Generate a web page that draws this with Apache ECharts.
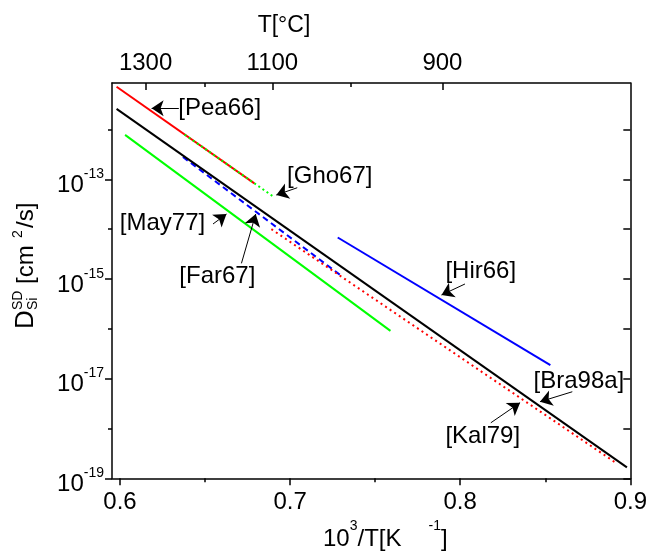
<!DOCTYPE html>
<html><head><meta charset="utf-8">
<script src="https://cdn.jsdelivr.net/npm/echarts@6/dist/echarts.min.js"></script>
<style>html,body{margin:0;padding:0;background:#fff}#c{width:650px;height:552px}</style>
</head><body><div id="c"></div>
<script>
// x: 10^3/T [1/K], y: D [cm^2/s]
const pea66X = [0.598, 0.679];
const pea66Y = [7.2e-12, 8.3e-14];
const gho67X = [0.638, 0.691];
const gho67Y = [7.9e-13, 4.3e-14];
const bra98aX = [0.598, 0.898];
const bra98aY = [2.6e-12, 1.66e-19];
const may77X = [0.603, 0.759];
const may77Y = [7.8e-13, 9.1e-17];
const hir66X = [0.728, 0.853];
const hir66Y = [6.8e-15, 1.86e-17];
const far67X = [0.637, 0.731];
const far67Y = [2.8e-13, 1.1e-15];
const kal79X = [0.689, 0.891];
const kal79Y = [1.0e-14, 2.1e-19];

// tick labels
const xTicks = [0.6, 0.7, 0.8, 0.9];
const xMinorTicks = [0.65, 0.75, 0.85];
const yTickExps = [-19, -17, -15, -13];
const yMinorExps = [-18, -16, -14, -12];
const tempTicks = [1300, 1100, 900];
const tempMinorTicks = [1200, 1000];
const refNames = ['[Pea66]', '[Gho67]', '[May77]', '[Far67]', '[Hir66]', '[Bra98a]', '[Kal79]'];

// annotation layout (data coordinates)
const annotLayout = [
  {text: [0.6346, 2.66e-12], align: 'left', from: [0.6346, 2.66e-12], to: [0.6186, 2.66e-12]},
  {text: [0.6985, 1.13e-13], align: 'left', from: [0.7042, 6.78e-14], to: [0.6919, 4.84e-14]},
  {text: [0.6498, 1.31e-14], align: 'right', from: [0.6547, 1.27e-14], to: [0.6626, 2.01e-14]},
  {text: [0.6352, 1.15e-15], align: 'left', from: [0.6714, 2.06e-15], to: [0.6798, 2.01e-14]},
  {text: [0.7916, 1.40e-15], align: 'left', from: [0.8028, 7.93e-16], to: [0.7890, 4.77e-16]},
  {text: [0.8434, 8.67e-18], align: 'left', from: [0.8659, 5.46e-18], to: [0.8469, 3.44e-18]},
  {text: [0.7916, 6.83e-19], align: 'left', from: [0.8180, 1.30e-18], to: [0.8352, 3.29e-18]}
];

const FF = '"Liberation Sans", Arial, Helvetica, sans-serif';
const pow10 = e => Math.pow(10, e);
const inv = t => 1000 / (t + 273.15);
const zip = (xs, ys) => xs.map((x, i) => [x, ys[i]]);

const X_MIN = 0.59531, X_MAX = 0.9;
const T_MIN = 0.611126, T_MAX = 0.989613;
const Y_MIN = 1e-19, Y_MAX = pow10(-11.067);

const axLine = {show: true, onZero: false, lineStyle: {color: '#000', width: 1.5}};
const noLine = {show: false, onZero: false};
const tickStyle = {color: '#000', width: 1.5};

function lineSeries(name, xs, ys, color, type) {
  return {
    name, type: 'line', data: zip(xs, ys), showSymbol: false, symbol: 'none',
    xAxisIndex: 0, yAxisIndex: 0, silent: true,
    lineStyle: {color, width: 2, type: type || 'solid'}
  };
}

const chart = echarts.init(document.getElementById('c'), null, {renderer: 'canvas'});
chart.setOption({
  animation: false,
  backgroundColor: '#fff',
  textStyle: {fontFamily: FF},
  grid: {left: 112, right: 18.3, top: 83, bottom: 73.7},
  xAxis: [
    {type: 'value', position: 'bottom', min: X_MIN, max: X_MAX, axisLine: axLine,
     axisTick: {show: true, inside: false, length: 7, customValues: xTicks, lineStyle: tickStyle},
     axisLabel: {customValues: xTicks, formatter: v => v.toFixed(1), fontSize: 24, color: '#000', margin: 12, fontFamily: FF},
     splitLine: {show: false}},
    {type: 'value', position: 'bottom', min: X_MIN, max: X_MAX, axisLine: noLine,
     axisTick: {show: true, inside: false, length: 4, customValues: xMinorTicks, lineStyle: tickStyle},
     axisLabel: {show: false}, splitLine: {show: false}},
    {type: 'value', position: 'top', min: T_MIN, max: T_MAX, axisLine: axLine,
     axisTick: {show: true, inside: true, length: 7, customValues: tempTicks.map(inv), lineStyle: tickStyle},
     axisLabel: {customValues: tempTicks.map(inv), formatter: v => String(Math.round(1000 / v - 273.15)), fontSize: 24, color: '#000', margin: 8, fontFamily: FF},
     splitLine: {show: false}},
    {type: 'value', position: 'top', min: T_MIN, max: T_MAX, axisLine: noLine,
     axisTick: {show: true, inside: true, length: 4, customValues: tempMinorTicks.map(inv), lineStyle: tickStyle},
     axisLabel: {show: false}, splitLine: {show: false}}
  ],
  yAxis: [
    {type: 'log', logBase: 10, position: 'left', min: Y_MIN, max: Y_MAX, axisLine: axLine,
     axisTick: {show: true, inside: false, length: 7, customValues: yTickExps.map(pow10), lineStyle: tickStyle},
     axisLabel: {customValues: yTickExps.map(pow10), margin: 8, color: '#000',
       formatter: v => '{b|10}{s|' + Math.round(Math.log10(v)) + '}',
       rich: {
         b: {fontSize: 24, color: '#000', fontFamily: FF, padding: [12, 0, 0, 0], verticalAlign: 'bottom'},
         s: {fontSize: 14, color: '#000', fontFamily: FF, padding: [6, 0, 0, 0], verticalAlign: 'top'}
       }},
     splitLine: {show: false}, minorTick: {show: false}},
    {type: 'log', logBase: 10, position: 'left', min: Y_MIN, max: Y_MAX, axisLine: noLine,
     axisTick: {show: true, inside: false, length: 4, customValues: yMinorExps.map(pow10), lineStyle: tickStyle},
     axisLabel: {show: false}, splitLine: {show: false}},
    {type: 'log', logBase: 10, position: 'right', min: Y_MIN, max: Y_MAX, axisLine: axLine,
     axisTick: {show: true, inside: true, length: 7, customValues: yTickExps.concat(yMinorExps).map(pow10), lineStyle: tickStyle},
     axisLabel: {show: false}, splitLine: {show: false}}
  ],
  series: [
    lineSeries('[May77]', may77X, may77Y, '#00ff00'),
    lineSeries('[Far67]', far67X, far67Y, '#0000ff', [6, 4]),
    lineSeries('[Kal79]', kal79X, kal79Y, '#ff0000', [2, 3.5]),
    lineSeries('[Bra98a]', bra98aX, bra98aY, '#000000'),
    lineSeries('[Hir66]', hir66X, hir66Y, '#0000ff'),
    lineSeries('[Pea66]', pea66X, pea66Y, '#ff0000'),
    lineSeries('[Gho67]', gho67X, gho67Y, '#00ff00', [2, 3]),
    {
      name: 'labels', type: 'scatter', xAxisIndex: 0, yAxisIndex: 0, silent: true,
      symbol: 'circle', symbolSize: 1, itemStyle: {color: 'rgba(0,0,0,0)', opacity: 1},
      label: {show: true, color: '#000', fontSize: 24, fontFamily: FF, opacity: 1},
      data: annotLayout.map((a, i) => ({
        value: a.text, name: refNames[i],
        label: {show: true, position: [a.align === 'left' ? 0 : 1, 0.5], align: a.align, verticalAlign: 'middle',
                formatter: refNames[i], fontSize: 24, color: '#000', opacity: 1, fontFamily: FF}
      })),
      markLine: {
        silent: true, animation: false, symbol: ['none', 'arrow'], symbolSize: 12,
        lineStyle: {color: '#000', width: 1, type: 'solid', opacity: 1}, label: {show: false},
        itemStyle: {color: '#000', opacity: 1},
        emphasis: {disabled: true},
        data: annotLayout.map(a => [{coord: a.from}, {coord: a.to}])
      }
    }
  ],
  graphic: [
    {type: 'text', x: 284, y: 26, style: {text: 'T[°C]', fontSize: 23, fontFamily: FF, fill: '#000', align: 'center', verticalAlign: 'middle'}},
    {type: 'text', x: 323, y: 535, style: {
      text: '{n|10}{s|3}{n|/T[K}{g|}{s|-1}{n|]}', align: 'left', verticalAlign: 'middle',
      rich: {
        n: {fontSize: 24, fontFamily: FF, fill: '#000', padding: [8, 0, 0, 0], verticalAlign: 'bottom'},
        s: {fontSize: 14, fontFamily: FF, fill: '#000', verticalAlign: 'top'},
        g: {width: 27}
      }}},
    {type: 'group', x: 26, y: 329, rotation: Math.PI / 2, children: [
      {type: 'text', x: 0, y: 0, style: {text: 'D', fontSize: 26, fontFamily: FF, fill: '#000', align: 'left', verticalAlign: 'middle'}},
      {type: 'text', x: 19, y: -8, style: {text: 'SD', fontSize: 14, fontFamily: FF, fill: '#000', align: 'left', verticalAlign: 'middle'}},
      {type: 'text', x: 19, y: 7, style: {text: 'Si', fontSize: 14, fontFamily: FF, fill: '#000', align: 'left', verticalAlign: 'middle'}},
      {type: 'text', x: 45, y: 0, style: {text: '[cm', fontSize: 24, fontFamily: FF, fill: '#000', align: 'left', verticalAlign: 'middle'}},
      {type: 'text', x: 91, y: -8, style: {text: '2', fontSize: 14, fontFamily: FF, fill: '#000', align: 'left', verticalAlign: 'middle'}},
      {type: 'text', x: 101, y: 0, style: {text: '/s]', fontSize: 24, fontFamily: FF, fill: '#000', align: 'left', verticalAlign: 'middle'}}
    ]}
  ]
});
</script></body></html>
